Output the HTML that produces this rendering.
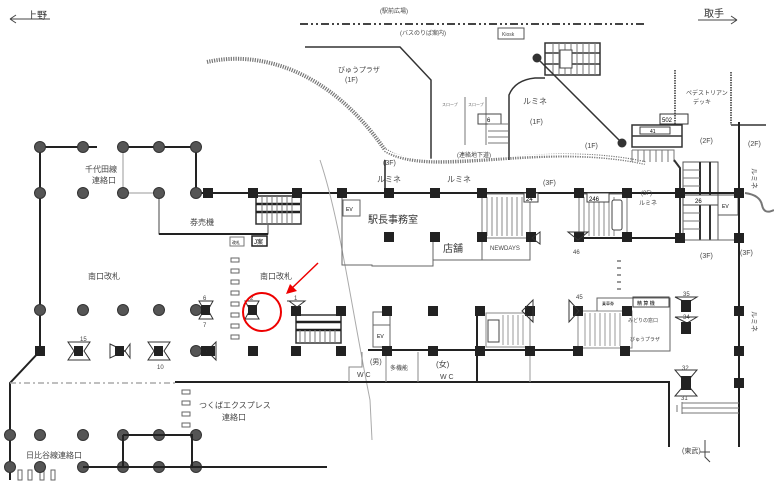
<!DOCTYPE html>
<html><head><meta charset="utf-8"><style>
html,body{margin:0;padding:0;background:#fff;}
svg{display:block;font-family:"Liberation Sans","Noto Sans CJK JP",sans-serif;}
</style></head><body>
<svg width="774" height="495" viewBox="0 0 774 495" xmlns="http://www.w3.org/2000/svg">
<defs>
<g id="sq"><rect x="-5" y="-5" width="10" height="10" fill="#222"/></g>
<g id="ci"><circle r="5.5" fill="#555" stroke="#333"/></g>
</defs>
<!-- top labels -->
<text x="27" y="19" font-size="10" fill="#333">上野</text>
<path d="M10 19 H50 M10 19 l6 -4 M10 19 l6 4" stroke="#444" fill="none"/>
<text x="704" y="17" font-size="10" fill="#333">取手</text>
<path d="M698 20 H737 M737 20 l-6 -4 M737 20 l-6 4" stroke="#444" fill="none"/>
<text x="380" y="13" font-size="6" fill="#444">(駅前広場)</text>
<line x1="300" y1="24" x2="645" y2="24" stroke="#444" stroke-width="2" stroke-dasharray="8 3 2 3 2 3"/>
<text x="400" y="35" font-size="6" fill="#444">(バスのりば案内)</text>
<rect x="498" y="28" width="26" height="11" fill="none" stroke="#555"/>
<text x="502" y="36" font-size="5" fill="#444">Kiosk</text>
<path d="M305 47 H400 L431 80 V160" stroke="#333" stroke-width="1.5" fill="none"/>
<text x="338" y="72" font-size="7" fill="#444">びゅうプラザ</text>
<text x="345" y="82" font-size="7" fill="#444">(1F)</text>
<!-- curved dashed band -->
<path d="M207 62 C260 50 330 70 385 150 C430 180 540 140 645 163" stroke="#777" stroke-width="4" fill="none" stroke-dasharray="1.2 1.2"/>
<path d="M385 150 C430 175 540 140 645 163" stroke="#fff" stroke-width="1.5" fill="none"/>
<!-- slopes & passage -->
<line x1="465" y1="97" x2="465" y2="145" stroke="#777"/>
<line x1="486" y1="97" x2="486" y2="145" stroke="#777"/>
<text x="442" y="106" font-size="4" fill="#666">スロープ</text>
<text x="468" y="106" font-size="4" fill="#666">スロープ</text>
<rect x="478" y="114" width="23" height="10" fill="none" stroke="#444"/>
<text x="487" y="122" font-size="6">6</text>
<path d="M488 124 H508 M488 131 H508 M488 137 H508 M488 143 H508" stroke="#777"/>
<text x="457" y="157" font-size="6" fill="#444">(連絡地下道)</text>
<path d="M509 160 V95 Q515 80 535 78 H545" stroke="#333" stroke-width="1.5" fill="none"/>
<text x="523" y="104" font-size="8" fill="#444">ルミネ</text>
<text x="530" y="124" font-size="7" fill="#444">(1F)</text>
<text x="585" y="148" font-size="7" fill="#444">(1F)</text>
<!-- top escalator -->
<rect x="545" y="43" width="55" height="32" fill="none" stroke="#333" stroke-width="1.5"/>
<path d="M545 53 H600 M545 64 H600" stroke="#333" stroke-width="1.5"/>
<path d="M553 43V75M559 43V75M565 43V75M571 43V75M577 43V75M583 43V75M589 43V75M595 43V75" stroke="#777"/>
<rect x="560" y="50" width="12" height="18" fill="#fff" stroke="#444"/>
<circle cx="537" cy="58" r="4.5" fill="#333"/>
<line x1="537" y1="58" x2="622" y2="143" stroke="#333" stroke-width="1.5"/>
<circle cx="622" cy="143" r="4.5" fill="#333"/>
<!-- right escalators -->
<rect x="660" y="114" width="28" height="10" fill="#fff" stroke="#333"/>
<text x="662" y="122" font-size="6">502</text>
<rect x="632" y="125" width="50" height="22" fill="none" stroke="#333" stroke-width="1.5"/>
<path d="M632 136 H682" stroke="#333" stroke-width="1.5"/>
<rect x="640" y="127" width="30" height="7" fill="#fff" stroke="#444"/>
<text x="650" y="133" font-size="5">41</text>
<path d="M632 150H674V162M632 150V162M638 150V162M644 150V162M650 150V162M656 150V162M662 150V162M668 150V162" stroke="#777" fill="none"/>
<path d="M674 160 L680 168 V240" stroke="#333" stroke-width="2" fill="none"/>
<line x1="675" y1="70" x2="675" y2="125" stroke="#333" stroke-width="1.5" stroke-dasharray="1.5 1"/>
<line x1="731" y1="72" x2="731" y2="125" stroke="#333" stroke-width="1.5" stroke-dasharray="1.5 1"/>
<path d="M731 125 H766" stroke="#333" stroke-width="1.5"/>
<text x="686" y="95" font-size="6" fill="#444">ペデストリアン</text>
<text x="693" y="104" font-size="6" fill="#444">デッキ</text>
<text x="700" y="143" font-size="7" fill="#444">(2F)</text>
<text x="748" y="146" font-size="7" fill="#444">(2F)</text>
<text x="748" y="172" font-size="7" fill="#444" transform="rotate(90 752 172)">ルミネ</text>
<path d="M745 193 Q760 195 762 205 T774 210" stroke="#777" stroke-width="2" fill="none"/>
<rect x="683" y="162" width="35" height="78" fill="none" stroke="#555"/>
<path d="M700 162V240M710 162V240" stroke="#333" stroke-width="2"/>
<path d="M683 170H700M683 178H700M683 186H700M683 205H700M683 213H700M683 221H700M683 229H700" stroke="#777"/>
<rect x="683" y="195" width="35" height="10" fill="#fff" stroke="#444"/>
<text x="695" y="203" font-size="6">26</text>
<rect x="718" y="195" width="20" height="20" fill="none" stroke="#555"/>
<text x="722" y="208" font-size="5">EV</text>
<!-- main vertical right -->
<line x1="739" y1="122" x2="739" y2="447" stroke="#222" stroke-width="2"/>
<text x="740" y="255" font-size="7" fill="#444">(3F)</text>
<text x="700" y="258" font-size="7" fill="#444">(3F)</text>
<text x="748" y="315" font-size="7" fill="#444" transform="rotate(90 752 315)">ルミネ</text>
<!-- top concourse line -->
<line x1="196" y1="193" x2="739" y2="193" stroke="#222" stroke-width="2"/>
<line x1="385" y1="160" x2="385" y2="193" stroke="#222" stroke-width="1.5"/>
<text x="383" y="165" font-size="7" fill="#444">(3F)</text>
<text x="377" y="182" font-size="8" fill="#444">ルミネ</text>
<text x="447" y="182" font-size="8" fill="#444">ルミネ</text>
<text x="543" y="185" font-size="7" fill="#444">(3F)</text>
<text x="641" y="195" font-size="6" fill="#444">(3F)</text>
<text x="639" y="205" font-size="6" fill="#444">ルミネ</text>
<!-- left section -->
<path d="M40 147 H97 M123 147 H196 V193 M40 147 V351 L10 383 V480" stroke="#222" stroke-width="2" fill="none"/>
<path d="M123 147 V193 H159" stroke="#999" fill="none"/>
<path d="M159 193 V234 H268 V225" stroke="#444" fill="none"/>
<line x1="159" y1="234" x2="268" y2="234" stroke="#222" stroke-width="2"/>
<text x="85" y="172" font-size="8" fill="#444">千代田線</text>
<text x="92" y="183" font-size="8" fill="#444">連絡口</text>
<text x="190" y="225" font-size="8" fill="#444">券売機</text>
<rect x="230" y="237" width="14" height="9" fill="none" stroke="#777"/>
<text x="232" y="244" font-size="4">改札</text>
<rect x="252" y="236" width="15" height="10" fill="none" stroke="#222" stroke-width="1.5"/>
<text x="254" y="244" font-size="6">J案</text>
<!-- escalator left -->
<rect x="256" y="196" width="45" height="28" fill="none" stroke="#333" stroke-width="1.5"/>
<path d="M256 204H300M256 212H300" stroke="#222" stroke-width="2.5"/>
<path d="M262 196V224M267 196V224M272 196V224M277 196V224M282 196V224M287 196V224M292 196V224" stroke="#777"/>
<!-- curved thin line -->
<path d="M320 160 C340 220 350 300 370 400 L372 440" stroke="#aaa" fill="none"/>
<!-- station office -->
<path d="M342 193 V265 H372 V266 H433 V238" stroke="#666" fill="none"/>
<path d="M433 238 V260 H530 V238" stroke="#666" fill="none"/>
<line x1="482" y1="238" x2="482" y2="260" stroke="#666"/>
<rect x="343" y="200" width="17" height="16" fill="none" stroke="#666"/>
<text x="346" y="211" font-size="5">EV</text>
<text x="368" y="223" font-size="10" fill="#333">駅長事務室</text>
<text x="443" y="252" font-size="10" fill="#333">店舗</text>
<text x="490" y="250" font-size="6" fill="#444">NEWDAYS</text>
<!-- escalators center-right -->
<rect x="482" y="194" width="48" height="44" fill="none" stroke="#777"/>
<path d="M487 197V236M492 197V236M497 197V236M502 197V236M507 197V236M512 197V236M517 197V236M522 197V236" stroke="#888"/>
<rect x="524" y="193" width="14" height="9" fill="#fff" stroke="#444"/>
<text x="526" y="201" font-size="6">24</text>
<rect x="579" y="194" width="48" height="44" fill="none" stroke="#777"/>
<path d="M584 197V236M589 197V236M594 197V236M599 197V236M604 197V236M609 197V236M614 197V236" stroke="#888"/>
<rect x="587" y="193" width="22" height="9" fill="#fff" stroke="#444"/>
<text x="589" y="201" font-size="6">246</text>
<rect x="612" y="200" width="10" height="30" rx="2" fill="#fff" stroke="#444"/>
<line x1="579" y1="238" x2="680" y2="238" stroke="#222" stroke-width="2"/>
<line x1="680" y1="240" x2="739" y2="240" stroke="#666"/>
<!-- left area text -->
<text x="88" y="279" font-size="8" fill="#444">南口改札</text>
<text x="260" y="279" font-size="8" fill="#444">南口改札</text>
<g fill="none" stroke="#666">
<rect x="231" y="258" width="8" height="4"/><rect x="231" y="269" width="8" height="4"/><rect x="231" y="280" width="8" height="4"/><rect x="231" y="291" width="8" height="4"/><rect x="231" y="302" width="8" height="4"/><rect x="231" y="313" width="8" height="4"/><rect x="231" y="324" width="8" height="4"/><rect x="231" y="335" width="8" height="4"/>
<rect x="182" y="390" width="8" height="4"/><rect x="182" y="401" width="8" height="4"/><rect x="182" y="412" width="8" height="4"/><rect x="182" y="423" width="8" height="4"/>
<rect x="18" y="470" width="4" height="10"/><rect x="28" y="470" width="4" height="10"/><rect x="40" y="470" width="4" height="10"/><rect x="51" y="470" width="4" height="10"/>
</g>
<!-- circles -->
<use href="#ci" x="40" y="147"/><use href="#ci" x="83" y="147"/><use href="#ci" x="123" y="147"/><use href="#ci" x="159" y="147"/><use href="#ci" x="196" y="147"/>
<use href="#ci" x="40" y="193"/><use href="#ci" x="83" y="193"/><use href="#ci" x="123" y="193"/><use href="#ci" x="159" y="193"/><use href="#ci" x="196" y="193"/>
<use href="#ci" x="40" y="310"/><use href="#ci" x="83" y="310"/><use href="#ci" x="123" y="310"/><use href="#ci" x="159" y="310"/><use href="#ci" x="196" y="310"/><use href="#ci" x="196" y="351"/>
<use href="#ci" x="10" y="435"/><use href="#ci" x="40" y="435"/><use href="#ci" x="83" y="435"/><use href="#ci" x="123" y="435"/><use href="#ci" x="159" y="435"/><use href="#ci" x="196" y="435"/>
<use href="#ci" x="10" y="467"/><use href="#ci" x="40" y="467"/><use href="#ci" x="83" y="467"/><use href="#ci" x="123" y="467"/><use href="#ci" x="159" y="467"/><use href="#ci" x="196" y="467"/>
<!-- bottom left -->
<path d="M123 435 H192 V467 M123 435 V467 M83 467 H327" stroke="#222" stroke-width="2" fill="none"/>
<text x="26" y="458" font-size="8" fill="#444">日比谷線連絡口</text>
<text x="199" y="408" font-size="8" fill="#444">つくばエクスプレス</text>
<text x="222" y="420" font-size="8" fill="#444">連絡口</text>
<line x1="10" y1="383" x2="175" y2="383" stroke="#aaa" stroke-width="1.5" stroke-dasharray="6 3 2 3"/>
<path d="M175 382 H669 V447" stroke="#222" stroke-width="2" fill="none"/>
<!-- center lower -->
<rect x="296" y="315" width="45" height="28" fill="none" stroke="#333" stroke-width="1.5"/>
<path d="M296 322H341M296 330H341" stroke="#222" stroke-width="2.5"/>
<path d="M300 330V343M305 330V343M310 330V343M315 330V343M320 330V343M325 330V343M330 330V343M335 330V343" stroke="#777"/>
<rect x="373" y="312" width="17" height="35" fill="none" stroke="#666"/>
<line x1="373" y1="325" x2="390" y2="325" stroke="#666"/>
<text x="377" y="338" font-size="5">EV</text>
<line x1="368" y1="350" x2="580" y2="350" stroke="#222" stroke-width="2"/>
<line x1="477" y1="310" x2="477" y2="382" stroke="#222" stroke-width="2"/>
<line x1="530" y1="350" x2="530" y2="382" stroke="#999"/>
<path d="M349 382 V367 H362 V352 M386 352 V382 M418 352 V382" stroke="#888" fill="none"/>
<text x="370" y="364" font-size="7" fill="#444">(男)</text>
<text x="357" y="377" font-size="7" fill="#444">W C</text>
<text x="390" y="370" font-size="6" fill="#444">多機能</text>
<text x="436" y="367" font-size="8" fill="#444">(女)</text>
<text x="440" y="379" font-size="7" fill="#444">W C</text>
<rect x="486" y="313" width="44" height="34" fill="none" stroke="#888"/>
<path d="M503 315V345M508 315V345M513 315V345M518 315V345M523 315V345" stroke="#999"/>
<rect x="488" y="320" width="11" height="22" fill="#fff" stroke="#444"/>
<rect x="578" y="311" width="54" height="37" fill="none" stroke="#888"/>
<path d="M585 313V346M590 313V346M595 313V346M600 313V346M605 313V346M610 313V346M615 313V346M620 313V346" stroke="#999"/>
<path d="M597 311 V298 H670 V351 H627" stroke="#666" fill="none"/>
<rect x="633" y="297" width="36" height="10" fill="none" stroke="#444"/>
<text x="637" y="305" font-size="5">精 算 機</text>
<text x="602" y="305" font-size="4">乗車券</text>
<text x="628" y="322" font-size="5" fill="#444">みどりの窓口</text>
<text x="630" y="341" font-size="5" fill="#444">びゅうプラザ</text>
<path d="M619 260V295" stroke="#999" stroke-width="4" stroke-dasharray="2 5"/>
<!-- squares -->
<use href="#sq" x="208" y="193"/><use href="#sq" x="253" y="193"/><use href="#sq" x="297" y="193"/><use href="#sq" x="342" y="193"/><use href="#sq" x="389" y="193"/><use href="#sq" x="435" y="193"/><use href="#sq" x="482" y="193"/><use href="#sq" x="531" y="193"/><use href="#sq" x="579" y="193"/><use href="#sq" x="627" y="193"/><use href="#sq" x="680" y="193"/><use href="#sq" x="739" y="193"/>
<use href="#sq" x="389" y="237"/><use href="#sq" x="435" y="237"/><use href="#sq" x="482" y="237"/><use href="#sq" x="531" y="237"/><use href="#sq" x="579" y="237"/><use href="#sq" x="627" y="237"/><use href="#sq" x="680" y="238"/><use href="#sq" x="739" y="238"/>
<use href="#sq" x="296" y="311"/><use href="#sq" x="341" y="311"/><use href="#sq" x="387" y="311"/><use href="#sq" x="433" y="311"/><use href="#sq" x="480" y="311"/><use href="#sq" x="530" y="311"/><use href="#sq" x="578" y="311"/><use href="#sq" x="627" y="311"/><use href="#sq" x="739" y="311"/>
<use href="#sq" x="40" y="351"/><use href="#sq" x="206" y="351"/><use href="#sq" x="253" y="351"/><use href="#sq" x="296" y="351"/><use href="#sq" x="341" y="351"/><use href="#sq" x="387" y="351"/><use href="#sq" x="433" y="351"/><use href="#sq" x="480" y="351"/><use href="#sq" x="530" y="351"/><use href="#sq" x="578" y="351"/><use href="#sq" x="625" y="351"/><use href="#sq" x="739" y="351"/><use href="#sq" x="739" y="383"/>
<!-- equipment icons -->
<g fill="none" stroke="#333">
<path d="M199 301 H213 L208 310 L213 319 H199 L204 310 Z"/>
<path d="M245 301 L259 301 L254 310 L259 319 L245 319 L250 310 Z"/>
<path d="M287 301 H305 L297 307 L289 301"/>
<path d="M68 342 H90 L84 351 L90 360 H68 L74 351 Z"/>
<path d="M110 344 L125 351 L110 358 Z M130 344 L125 351 L130 358 Z"/>
<path d="M148 342 H170 L164 351 L170 360 H148 L154 351 Z"/>
<path d="M216 342 L207 351 L216 360 Z"/>
<path d="M533 300 L522 311 L533 322 Z"/>
<path d="M569 300 L579 311 L569 322 Z"/>
<path d="M568 232 H588 L578 240 Z"/>
<path d="M540 232 L532 238 L540 244 Z"/>
<path d="M675 297 H697 L687 303 Z"/>
<path d="M675 317 H697 L687 323 Z"/>
<path d="M675 370 H697 L686 383 L697 396 H675 L686 383 Z"/>
</g>
<g fill="#222">
<rect x="201" y="305" width="9" height="10"/><rect x="248" y="305" width="9" height="10"/>
<rect x="74" y="346" width="9" height="10"/><rect x="115" y="346" width="9" height="10"/><rect x="154" y="346" width="9" height="10"/><rect x="207" y="346" width="8" height="10"/>
<rect x="681" y="300" width="10" height="12"/><rect x="681" y="322" width="10" height="12"/><rect x="681" y="376" width="10" height="14"/>
</g>
<g font-size="6" fill="#444">
<text x="203" y="300">6</text><text x="203" y="327">7</text><text x="250" y="300">2</text><text x="294" y="300">1</text>
<text x="80" y="341">15</text><text x="157" y="369">10</text><text x="576" y="299">45</text><text x="573" y="254">46</text>
<text x="683" y="296">35</text><text x="683" y="319">34</text><text x="682" y="370">32</text><text x="681" y="400">31</text>
</g>
<path d="M677 405V412 M682 402V414 M682 403H739M682 408H739M682 413H739" stroke="#777" fill="none"/>
<text x="682" y="453" font-size="7" fill="#444">(東武)</text>
<path d="M705 440 V457 L710 462 M700 452 H710" stroke="#444" fill="none"/>
<!-- red highlight -->
<circle cx="262" cy="312" r="19" fill="none" stroke="#e00" stroke-width="2"/>
<line x1="318" y1="263" x2="290" y2="290" stroke="#e00" stroke-width="1.5"/>
<path d="M286 294 L297 291 L290 284 Z" fill="#e00"/>
</svg>
</body></html>
